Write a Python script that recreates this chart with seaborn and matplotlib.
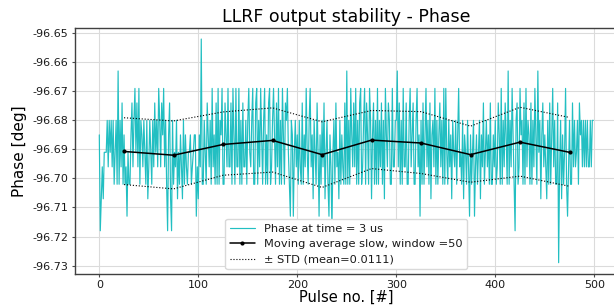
import numpy as np
import pandas as pd
import matplotlib
matplotlib.use("Agg")
import matplotlib.pyplot as plt
import seaborn as sns

# ---- data ----
phase = [
    # pulses 0-49
    -96.685, -96.718, -96.707, -96.696, -96.707, -96.691, -96.691, -96.691, -96.680, -96.696,
    -96.680, -96.691, -96.680, -96.696, -96.680, -96.702, -96.691, -96.680, -96.702, -96.663,
    -96.702, -96.680, -96.696, -96.674, -96.702, -96.685, -96.702, -96.696, -96.713, -96.691,
    -96.702, -96.702, -96.685, -96.674, -96.696, -96.680, -96.669, -96.691, -96.674, -96.696,
    -96.669, -96.702, -96.680, -96.685, -96.696, -96.680, -96.691, -96.702, -96.680, -96.707,
    # pulses 50-99
    -96.696, -96.680, -96.691, -96.702, -96.680, -96.696, -96.674, -96.691, -96.680, -96.696,
    -96.669, -96.680, -96.696, -96.674, -96.685, -96.669, -96.696, -96.680, -96.702, -96.718,
    -96.685, -96.674, -96.707, -96.718, -96.680, -96.702, -96.691, -96.696, -96.680, -96.707,
    -96.691, -96.702, -96.685, -96.696, -96.707, -96.680, -96.702, -96.685, -96.696, -96.702,
    -96.691, -96.691, -96.685, -96.702, -96.696, -96.691, -96.685, -96.685, -96.713, -96.696,
    # pulses 100-149
    -96.707, -96.685, -96.696, -96.652, -96.702, -96.702, -96.680, -96.691, -96.702, -96.674,
    -96.685, -96.696, -96.680, -96.702, -96.669, -96.696, -96.685, -96.702, -96.674, -96.702,
    -96.669, -96.702, -96.680, -96.685, -96.669, -96.702, -96.702, -96.674, -96.685, -96.696,
    -96.669, -96.696, -96.696, -96.674, -96.702, -96.669, -96.685, -96.702, -96.669, -96.696,
    -96.696, -96.669, -96.702, -96.680, -96.702, -96.674, -96.696, -96.696, -96.680, -96.702,
    # pulses 150-199
    -96.680, -96.669, -96.691, -96.696, -96.680, -96.669, -96.702, -96.702, -96.674, -96.669,
    -96.702, -96.680, -96.696, -96.669, -96.685, -96.702, -96.680, -96.669, -96.702, -96.685,
    -96.702, -96.674, -96.669, -96.702, -96.696, -96.680, -96.669, -96.685, -96.702, -96.674,
    -96.696, -96.669, -96.702, -96.680, -96.702, -96.669, -96.685, -96.702, -96.674, -96.680,
    -96.669, -96.691, -96.702, -96.713, -96.680, -96.685, -96.713, -96.691, -96.680, -96.696,
    # pulses 200-249
    -96.685, -96.702, -96.680, -96.696, -96.702, -96.674, -96.702, -96.685, -96.696, -96.669,
    -96.691, -96.702, -96.680, -96.669, -96.696, -96.685, -96.707, -96.680, -96.691, -96.702,
    -96.674, -96.691, -96.713, -96.685, -96.702, -96.680, -96.696, -96.674, -96.707, -96.691,
    -96.680, -96.702, -96.713, -96.685, -96.696, -96.718, -96.691, -96.680, -96.702, -96.674,
    -96.696, -96.691, -96.707, -96.680, -96.702, -96.685, -96.696, -96.702, -96.674, -96.702,
    # pulses 250-299
    -96.663, -96.702, -96.680, -96.702, -96.669, -96.685, -96.696, -96.674, -96.696, -96.669,
    -96.702, -96.680, -96.702, -96.674, -96.669, -96.702, -96.696, -96.680, -96.669, -96.702,
    -96.674, -96.685, -96.702, -96.669, -96.680, -96.707, -96.685, -96.674, -96.702, -96.680,
    -96.702, -96.669, -96.702, -96.680, -96.696, -96.674, -96.702, -96.680, -96.707, -96.669,
    -96.685, -96.696, -96.674, -96.680, -96.702, -96.702, -96.669, -96.696, -96.696, -96.680,
    # pulses 300-349
    -96.680, -96.663, -96.696, -96.674, -96.702, -96.680, -96.702, -96.669, -96.696, -96.696,
    -96.674, -96.702, -96.702, -96.680, -96.669, -96.696, -96.685, -96.674, -96.702, -96.702,
    -96.680, -96.669, -96.696, -96.685, -96.713, -96.680, -96.702, -96.674, -96.702, -96.685,
    -96.669, -96.696, -96.680, -96.702, -96.674, -96.707, -96.685, -96.680, -96.696, -96.669,
    -96.702, -96.680, -96.702, -96.685, -96.674, -96.696, -96.680, -96.702, -96.669, -96.702,
    # pulses 350-399
    -96.669, -96.691, -96.702, -96.680, -96.696, -96.685, -96.707, -96.680, -96.691, -96.696,
    -96.680, -96.702, -96.685, -96.669, -96.696, -96.691, -96.702, -96.680, -96.707, -96.685,
    -96.691, -96.702, -96.680, -96.696, -96.713, -96.685, -96.702, -96.691, -96.680, -96.713,
    -96.696, -96.685, -96.702, -96.691, -96.680, -96.707, -96.685, -96.696, -96.674, -96.702,
    -96.691, -96.680, -96.696, -96.685, -96.702, -96.674, -96.702, -96.702, -96.685, -96.696,
    # pulses 400-449
    -96.680, -96.702, -96.696, -96.674, -96.685, -96.702, -96.669, -96.702, -96.680, -96.696,
    -96.674, -96.685, -96.702, -96.663, -96.702, -96.680, -96.696, -96.669, -96.685, -96.702,
    -96.718, -96.680, -96.674, -96.702, -96.696, -96.669, -96.685, -96.680, -96.702, -96.674,
    -96.702, -96.669, -96.696, -96.680, -96.685, -96.702, -96.674, -96.702, -96.680, -96.696,
    -96.669, -96.685, -96.702, -96.663, -96.691, -96.680, -96.707, -96.685, -96.674, -96.696,
    # pulses 450-499
    -96.685, -96.696, -96.707, -96.680, -96.702, -96.674, -96.702, -96.685, -96.669, -96.696,
    -96.680, -96.702, -96.702, -96.674, -96.729, -96.696, -96.680, -96.707, -96.685, -96.702,
    -96.691, -96.669, -96.702, -96.713, -96.696, -96.680, -96.702, -96.702, -96.674, -96.696,
    -96.680, -96.696, -96.691, -96.680, -96.702, -96.674, -96.685, -96.680, -96.696, -96.680,
    -96.696, -96.680, -96.696, -96.680, -96.696, -96.696, -96.680, -96.696, -96.680, -96.680,
]

ma_pulse = [25, 75, 125, 175, 225, 275, 325, 375, 425, 475]
ma_phase = [-96.6907, -96.6920, -96.6883, -96.6869, -96.6918,
            -96.6868, -96.6878, -96.6918, -96.6875, -96.6910]
std_upper = [-96.6791, -96.6802, -96.6771, -96.6757, -96.6805,
             -96.6766, -96.6770, -96.6820, -96.6755, -96.6790]
std_lower = [-96.7021, -96.7036, -96.6989, -96.6978, -96.7031,
             -96.6966, -96.6983, -96.7013, -96.6992, -96.7027]

title = "LLRF output stability - Phase"
xlabel = "Pulse no. [#]"
ylabel = "Phase [deg]"
lbl_raw = "Phase at time = 3 us"
lbl_ma = "Moving average slow, window =50"
lbl_std = "\u00b1 STD (mean=0.0111)"
yticks = [-96.73, -96.72, -96.71, -96.70, -96.69, -96.68, -96.67, -96.66, -96.65]
xticks = [0, 100, 200, 300, 400, 500]

# ---- style ----
sns.set_style("whitegrid", {
    "axes.edgecolor": "0.25",
    "grid.color": "0.86",
    "xtick.bottom": True,
    "ytick.left": True,
    "text.color": "black",
    "axes.labelcolor": "black",
    "xtick.color": "black",
    "ytick.color": "black",
})
plt.rcParams["font.family"] = ["DejaVu Sans"]

fig = plt.figure(figsize=(6.14, 3.05), dpi=100)
ax = fig.add_axes([0.1215, 0.1016, 0.885, 0.8066])

df_raw = pd.DataFrame({"pulse": np.arange(len(phase)), "phase": phase})
df_ma = pd.DataFrame({"pulse": ma_pulse, "ma": ma_phase,
                      "up": std_upper, "lo": std_lower})

sns.lineplot(data=df_raw, x="pulse", y="phase", ax=ax, color="#22bfc2", lw=0.85,
             label=lbl_raw)
sns.lineplot(data=df_ma, x="pulse", y="ma", ax=ax, color="black", lw=1.1,
             marker="o", markersize=3, markeredgewidth=0, label=lbl_ma)
sns.lineplot(data=df_ma, x="pulse", y="up", ax=ax, color="black", lw=0.8,
             linestyle=":", label=lbl_std)
sns.lineplot(data=df_ma, x="pulse", y="lo", ax=ax, color="black", lw=0.8,
             linestyle=":")

ax.set_xlim(-24.95, 523.95)
ax.set_ylim(-96.7329, -96.6482)
ax.set_xticks(xticks)
ax.set_yticks(yticks)
ax.yaxis.set_major_formatter(matplotlib.ticker.FormatStrFormatter("%.2f"))
ax.tick_params(axis="both", labelsize=8, length=2.5, width=0.8, pad=2,
               color="0.3", labelcolor="0.1")
for s in ax.spines.values():
    s.set_linewidth(1.0)

ax.set_title(title, fontsize=12.5, pad=4, color="black")
ax.set_xlabel(xlabel, fontsize=10.5, labelpad=0, color="black")
ax.set_ylabel(ylabel, fontsize=11, labelpad=4, color="black")

leg = ax.legend(loc="lower center", fontsize=8.2, frameon=True,
                facecolor="white", edgecolor="0.85", framealpha=1.0,
                handlelength=2.2, borderaxespad=0.4)
for t in leg.get_texts():
    t.set_color("0.1")

fig.savefig("out.png", dpi=100)
